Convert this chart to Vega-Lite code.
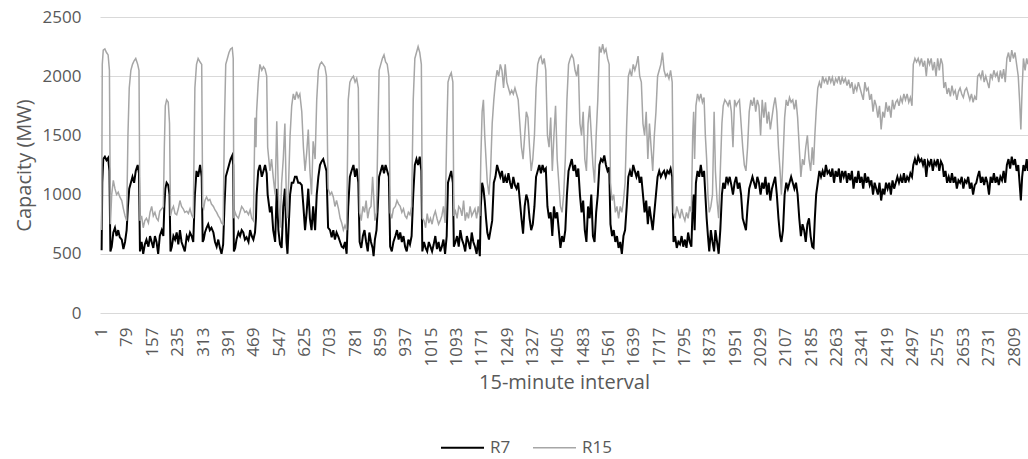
{
"$schema": "https://vega.github.io/schema/vega-lite/v6.json",
"width": 928, "height": 296,
"autosize": {"type": "none"},
"padding": {"left": 100, "top": 17, "right": 0, "bottom": 146},
"config": {"font": "Open Sans", "view": {"stroke": null}},
"data": {"values": [
{"i":1,"R7":530,"R15":700},{"i":3,"R7":1100,"R15":2100},{"i":6,"R7":1300,"R15":2220},{"i":11,"R7":1320,"R15":2230},{"i":16,"R7":1290,"R15":2200},{"i":21,"R7":1310,"R15":2180},{"i":25,"R7":1200,"R15":2050},{"i":28,"R7":520,"R15":750},{"i":32,"R7":560,"R15":1000},{"i":37,"R7":680,"R15":1120},{"i":42,"R7":720,"R15":1050},{"i":47,"R7":650,"R15":1000},{"i":52,"R7":700,"R15":1020},{"i":57,"R7":640,"R15":980},{"i":63,"R7":620,"R15":950},{"i":68,"R7":540,"R15":880},{"i":73,"R7":600,"R15":820},{"i":78,"R7":700,"R15":780},{"i":82,"R7":900,"R15":1500},{"i":86,"R7":1050,"R15":1900},{"i":91,"R7":1100,"R15":2050},{"i":96,"R7":1150,"R15":2100},{"i":101,"R7":1100,"R15":2130},{"i":106,"R7":1200,"R15":2150},{"i":112,"R7":1250,"R15":2100},{"i":116,"R7":1180,"R15":2050},
{"i":119,"R7":520,"R15":780},{"i":124,"R7":600,"R15":820},{"i":129,"R7":500,"R15":720},{"i":134,"R7":580,"R15":780},{"i":139,"R7":620,"R15":800},{"i":145,"R7":560,"R15":760},{"i":150,"R7":650,"R15":850},{"i":155,"R7":600,"R15":900},{"i":160,"R7":550,"R15":820},{"i":165,"R7":650,"R15":850},{"i":170,"R7":600,"R15":800},{"i":175,"R7":500,"R15":780},{"i":180,"R7":650,"R15":860},{"i":186,"R7":700,"R15":880},{"i":191,"R7":650,"R15":900},{"i":194,"R7":900,"R15":1400},{"i":197,"R7":1050,"R15":1750},{"i":201,"R7":1100,"R15":1800},{"i":206,"R7":1080,"R15":1780},{"i":210,"R7":1000,"R15":1600},
{"i":213,"R7":520,"R15":820},{"i":217,"R7":560,"R15":870},{"i":222,"R7":650,"R15":900},{"i":227,"R7":620,"R15":840},{"i":232,"R7":680,"R15":830},{"i":237,"R7":580,"R15":880},{"i":242,"R7":700,"R15":950},{"i":247,"R7":600,"R15":900},{"i":252,"R7":560,"R15":880},{"i":257,"R7":520,"R15":850},{"i":263,"R7":650,"R15":860},{"i":268,"R7":620,"R15":840},{"i":273,"R7":680,"R15":880},{"i":278,"R7":650,"R15":830},{"i":283,"R7":600,"R15":800},{"i":288,"R7":1000,"R15":1900},{"i":293,"R7":1200,"R15":2100},{"i":298,"R7":1150,"R15":2150},{"i":304,"R7":1250,"R15":2120},{"i":309,"R7":1150,"R15":2100},
{"i":312,"R7":600,"R15":900},{"i":315,"R7":620,"R15":880},{"i":319,"R7":680,"R15":950},{"i":324,"R7":720,"R15":980},{"i":329,"R7":750,"R15":950},{"i":334,"R7":700,"R15":960},{"i":339,"R7":720,"R15":920},{"i":345,"R7":680,"R15":900},{"i":350,"R7":600,"R15":870},{"i":355,"R7":560,"R15":850},{"i":360,"R7":620,"R15":820},{"i":365,"R7":550,"R15":800},{"i":370,"R7":500,"R15":760},{"i":375,"R7":580,"R15":750},{"i":379,"R7":900,"R15":1600},{"i":383,"R7":1150,"R15":2100},{"i":388,"R7":1200,"R15":2150},{"i":393,"R7":1250,"R15":2200},{"i":398,"R7":1300,"R15":2230},{"i":403,"R7":1330,"R15":2240},{"i":406,"R7":1250,"R15":2150},
{"i":408,"R7":520,"R15":800},{"i":412,"R7":550,"R15":850},{"i":416,"R7":620,"R15":820},{"i":422,"R7":680,"R15":800},{"i":427,"R7":650,"R15":850},{"i":432,"R7":700,"R15":900},{"i":437,"R7":680,"R15":880},{"i":442,"R7":620,"R15":850},{"i":447,"R7":640,"R15":860},{"i":453,"R7":600,"R15":830},{"i":458,"R7":700,"R15":870},{"i":463,"R7":650,"R15":800},{"i":468,"R7":620,"R15":780},{"i":473,"R7":680,"R15":1650},{"i":476,"R7":800,"R15":1400},{"i":478,"R7":1000,"R15":1700},{"i":483,"R7":1200,"R15":1950},{"i":488,"R7":1250,"R15":2100},{"i":494,"R7":1150,"R15":2050},{"i":499,"R7":1200,"R15":2080},{"i":504,"R7":1250,"R15":2060},{"i":509,"R7":1180,"R15":2000},
{"i":512,"R7":1000,"R15":1400},{"i":519,"R7":850,"R15":1200},{"i":524,"R7":900,"R15":1300},{"i":529,"R7":700,"R15":1150},{"i":535,"R7":600,"R15":1000},{"i":540,"R7":1050,"R15":1620},{"i":545,"R7":700,"R15":1000},{"i":550,"R7":580,"R15":720},{"i":555,"R7":550,"R15":1100},{"i":560,"R7":900,"R15":1300},{"i":565,"R7":1050,"R15":1600},{"i":570,"R7":600,"R15":900},{"i":573,"R7":500,"R15":800},{"i":581,"R7":1000,"R15":1500},{"i":586,"R7":1100,"R15":1750},{"i":591,"R7":1100,"R15":1850},{"i":596,"R7":1150,"R15":1800},{"i":601,"R7":1150,"R15":1870},{"i":606,"R7":1100,"R15":1820},{"i":611,"R7":1100,"R15":1850},{"i":617,"R7":1080,"R15":1700},
{"i":622,"R7":900,"R15":1400},{"i":627,"R7":700,"R15":1200},{"i":632,"R7":850,"R15":1350},{"i":637,"R7":1050,"R15":1550},{"i":642,"R7":800,"R15":1200},{"i":647,"R7":700,"R15":1000},{"i":652,"R7":900,"R15":1450},{"i":658,"R7":700,"R15":1300},{"i":663,"R7":1000,"R15":1800},{"i":668,"R7":1150,"R15":2050},{"i":673,"R7":1250,"R15":2100},{"i":678,"R7":1280,"R15":2120},{"i":683,"R7":1300,"R15":2100},{"i":688,"R7":1250,"R15":2080},{"i":693,"R7":1200,"R15":2000},
{"i":698,"R7":720,"R15":1050},{"i":704,"R7":700,"R15":1000},{"i":709,"R7":640,"R15":1020},{"i":714,"R7":700,"R15":980},{"i":719,"R7":620,"R15":900},{"i":724,"R7":680,"R15":950},{"i":730,"R7":640,"R15":880},{"i":735,"R7":600,"R15":800},{"i":740,"R7":560,"R15":760},{"i":745,"R7":550,"R15":700},{"i":750,"R7":600,"R15":740},{"i":755,"R7":500,"R15":700},
{"i":760,"R7":900,"R15":1800},{"i":765,"R7":1150,"R15":1950},{"i":770,"R7":1200,"R15":1980},{"i":776,"R7":1250,"R15":2000},{"i":781,"R7":1150,"R15":1950},{"i":786,"R7":1220,"R15":1980},{"i":791,"R7":1100,"R15":1900},
{"i":795,"R7":600,"R15":850},{"i":800,"R7":550,"R15":780},{"i":805,"R7":650,"R15":900},{"i":810,"R7":700,"R15":850},{"i":815,"R7":600,"R15":950},{"i":820,"R7":520,"R15":800},{"i":825,"R7":680,"R15":880},{"i":830,"R7":600,"R15":900},{"i":835,"R7":550,"R15":1150},{"i":838,"R7":480,"R15":1000},{"i":842,"R7":620,"R15":780},{"i":847,"R7":700,"R15":850},{"i":851,"R7":900,"R15":1500},{"i":855,"R7":1150,"R15":2050},{"i":860,"R7":1200,"R15":2100},{"i":865,"R7":1250,"R15":2150},{"i":870,"R7":1180,"R15":2180},{"i":875,"R7":1250,"R15":2120},{"i":880,"R7":1200,"R15":2100},{"i":885,"R7":1150,"R15":2000},
{"i":889,"R7":560,"R15":850},{"i":894,"R7":520,"R15":800},{"i":899,"R7":600,"R15":880},{"i":905,"R7":650,"R15":900},{"i":910,"R7":700,"R15":950},{"i":915,"R7":620,"R15":920},{"i":920,"R7":680,"R15":900},{"i":925,"R7":600,"R15":850},{"i":930,"R7":650,"R15":880},{"i":935,"R7":560,"R15":820},{"i":940,"R7":520,"R15":800},{"i":945,"R7":620,"R15":850},{"i":950,"R7":580,"R15":830},{"i":955,"R7":650,"R15":900},{"i":960,"R7":1000,"R15":1800},{"i":965,"R7":1250,"R15":2150},{"i":970,"R7":1300,"R15":2200},{"i":975,"R7":1250,"R15":2250},{"i":980,"R7":1320,"R15":2200},{"i":985,"R7":1200,"R15":2100},
{"i":988,"R7":520,"R15":800},{"i":993,"R7":600,"R15":780},{"i":998,"R7":550,"R15":720},{"i":1003,"R7":520,"R15":840},{"i":1008,"R7":600,"R15":760},{"i":1013,"R7":560,"R15":800},{"i":1018,"R7":520,"R15":750},{"i":1023,"R7":580,"R15":820},{"i":1028,"R7":650,"R15":860},{"i":1033,"R7":540,"R15":800},{"i":1038,"R7":600,"R15":750},{"i":1043,"R7":520,"R15":780},{"i":1048,"R7":560,"R15":820},{"i":1053,"R7":620,"R15":900},{"i":1058,"R7":500,"R15":760},{"i":1063,"R7":650,"R15":1500},{"i":1067,"R7":1100,"R15":1950},{"i":1072,"R7":1150,"R15":2000},{"i":1077,"R7":1200,"R15":2030},{"i":1082,"R7":1100,"R15":1950},
{"i":1085,"R7":560,"R15":820},{"i":1090,"R7":600,"R15":860},{"i":1095,"R7":650,"R15":800},{"i":1100,"R7":560,"R15":900},{"i":1105,"R7":700,"R15":880},{"i":1110,"R7":620,"R15":820},{"i":1115,"R7":580,"R15":950},{"i":1120,"R7":520,"R15":780},{"i":1125,"R7":650,"R15":850},{"i":1130,"R7":600,"R15":800},{"i":1135,"R7":540,"R15":900},{"i":1140,"R7":680,"R15":820},{"i":1145,"R7":600,"R15":850},{"i":1150,"R7":560,"R15":880},{"i":1155,"R7":500,"R15":800},{"i":1160,"R7":620,"R15":900},{"i":1165,"R7":480,"R15":820},
{"i":1168,"R7":900,"R15":1300},{"i":1172,"R7":1100,"R15":1700},{"i":1176,"R7":1050,"R15":1800},{"i":1180,"R7":950,"R15":1500},{"i":1184,"R7":800,"R15":1300},{"i":1188,"R7":680,"R15":1100},{"i":1193,"R7":620,"R15":1000},{"i":1198,"R7":700,"R15":1200},{"i":1203,"R7":780,"R15":1600},{"i":1208,"R7":1100,"R15":1800},{"i":1213,"R7":1150,"R15":1950},{"i":1218,"R7":1250,"R15":2050},{"i":1223,"R7":1200,"R15":2000},{"i":1228,"R7":1150,"R15":2100},{"i":1233,"R7":1200,"R15":2050},{"i":1238,"R7":1100,"R15":1900},{"i":1243,"R7":1150,"R15":2100},{"i":1248,"R7":1100,"R15":1950},{"i":1253,"R7":1180,"R15":1900},{"i":1258,"R7":1100,"R15":1850},{"i":1263,"R7":1050,"R15":1880},{"i":1268,"R7":1150,"R15":1850},{"i":1273,"R7":1080,"R15":1900},{"i":1278,"R7":1050,"R15":1850},{"i":1283,"R7":1100,"R15":1800},
{"i":1288,"R7":950,"R15":1600},{"i":1293,"R7":800,"R15":1400},{"i":1298,"R7":670,"R15":1300},{"i":1303,"R7":900,"R15":1500},{"i":1308,"R7":1000,"R15":1700},{"i":1313,"R7":950,"R15":1650},{"i":1318,"R7":800,"R15":1400},{"i":1323,"R7":700,"R15":1200},{"i":1328,"R7":750,"R15":1300},{"i":1333,"R7":900,"R15":1500},{"i":1338,"R7":1150,"R15":1900},{"i":1343,"R7":1200,"R15":2100},{"i":1348,"R7":1250,"R15":2150},{"i":1353,"R7":1180,"R15":2170},{"i":1358,"R7":1250,"R15":2100},{"i":1363,"R7":1200,"R15":2150},{"i":1368,"R7":1220,"R15":2050},
{"i":1373,"R7":900,"R15":1500},{"i":1378,"R7":800,"R15":1400},{"i":1383,"R7":850,"R15":1650},{"i":1388,"R7":650,"R15":1200},{"i":1393,"R7":900,"R15":1500},{"i":1398,"R7":800,"R15":1750},{"i":1403,"R7":850,"R15":1300},{"i":1408,"R7":700,"R15":1100},{"i":1413,"R7":550,"R15":900},{"i":1418,"R7":650,"R15":850},{"i":1423,"R7":600,"R15":1000},{"i":1428,"R7":700,"R15":1300},{"i":1433,"R7":1000,"R15":1800},{"i":1438,"R7":1200,"R15":2100},{"i":1443,"R7":1250,"R15":2150},{"i":1448,"R7":1300,"R15":2180},{"i":1453,"R7":1200,"R15":2150},{"i":1458,"R7":1250,"R15":2050},{"i":1463,"R7":1150,"R15":2000},{"i":1468,"R7":1220,"R15":2100},
{"i":1473,"R7":1000,"R15":1600},{"i":1478,"R7":850,"R15":1500},{"i":1483,"R7":950,"R15":1700},{"i":1488,"R7":700,"R15":1300},{"i":1493,"R7":600,"R15":1200},{"i":1498,"R7":900,"R15":1600},{"i":1503,"R7":800,"R15":1750},{"i":1508,"R7":1000,"R15":1500},{"i":1513,"R7":650,"R15":1250},{"i":1518,"R7":600,"R15":1100},{"i":1523,"R7":850,"R15":1500},{"i":1528,"R7":1000,"R15":1800},{"i":1533,"R7":1250,"R15":2250},{"i":1538,"R7":1300,"R15":2200},{"i":1543,"R7":1280,"R15":2270},{"i":1548,"R7":1330,"R15":2200},{"i":1553,"R7":1250,"R15":2230},{"i":1558,"R7":1200,"R15":2150},{"i":1563,"R7":1230,"R15":2100},
{"i":1567,"R7":750,"R15":1100},{"i":1572,"R7":650,"R15":950},{"i":1577,"R7":700,"R15":1000},{"i":1582,"R7":600,"R15":850},{"i":1587,"R7":650,"R15":900},{"i":1592,"R7":550,"R15":800},{"i":1597,"R7":600,"R15":900},{"i":1602,"R7":500,"R15":850},{"i":1607,"R7":650,"R15":950},{"i":1612,"R7":700,"R15":1100},{"i":1617,"R7":900,"R15":1600},{"i":1622,"R7":1150,"R15":2000},{"i":1627,"R7":1200,"R15":2050},{"i":1632,"R7":1150,"R15":2000},{"i":1637,"R7":1250,"R15":2100},{"i":1642,"R7":1200,"R15":2050},{"i":1647,"R7":1150,"R15":2100},{"i":1652,"R7":1200,"R15":2170},{"i":1657,"R7":1100,"R15":2000},{"i":1662,"R7":1150,"R15":1950},
{"i":1667,"R7":1000,"R15":1600},{"i":1672,"R7":850,"R15":1500},{"i":1677,"R7":950,"R15":1700},{"i":1682,"R7":750,"R15":1300},{"i":1687,"R7":900,"R15":1600},{"i":1692,"R7":800,"R15":1400},{"i":1697,"R7":700,"R15":1200},{"i":1702,"R7":850,"R15":1500},{"i":1707,"R7":1000,"R15":1700},{"i":1712,"R7":1150,"R15":2000},{"i":1717,"R7":1200,"R15":2050},{"i":1722,"R7":1150,"R15":2100},{"i":1727,"R7":1180,"R15":2200},{"i":1732,"R7":1200,"R15":2050},{"i":1737,"R7":1150,"R15":2000},{"i":1742,"R7":1200,"R15":2020},{"i":1747,"R7":1180,"R15":1980},{"i":1752,"R7":1220,"R15":2050},{"i":1757,"R7":1150,"R15":1950},
{"i":1761,"R7":600,"R15":850},{"i":1766,"R7":650,"R15":800},{"i":1771,"R7":550,"R15":900},{"i":1776,"R7":600,"R15":850},{"i":1781,"R7":580,"R15":800},{"i":1786,"R7":650,"R15":880},{"i":1791,"R7":560,"R15":820},{"i":1796,"R7":620,"R15":780},{"i":1801,"R7":550,"R15":850},{"i":1806,"R7":680,"R15":800},{"i":1811,"R7":600,"R15":900},{"i":1816,"R7":560,"R15":850},{"i":1820,"R7":900,"R15":1500},{"i":1823,"R7":1000,"R15":1700},{"i":1826,"R7":700,"R15":1300},{"i":1830,"R7":1100,"R15":1750},{"i":1835,"R7":1200,"R15":1850},{"i":1840,"R7":1150,"R15":1800},{"i":1845,"R7":1250,"R15":1850},{"i":1850,"R7":1150,"R15":1780},{"i":1855,"R7":1200,"R15":1820},
{"i":1859,"R7":1000,"R15":1500},{"i":1863,"R7":800,"R15":1300},{"i":1867,"R7":650,"R15":1000},{"i":1871,"R7":520,"R15":850},{"i":1876,"R7":700,"R15":900},{"i":1881,"R7":600,"R15":1000},{"i":1886,"R7":520,"R15":1700},{"i":1890,"R7":700,"R15":1200},{"i":1895,"R7":600,"R15":950},{"i":1900,"R7":500,"R15":800},{"i":1905,"R7":700,"R15":1200},{"i":1910,"R7":1000,"R15":1600},{"i":1914,"R7":1100,"R15":1750},{"i":1919,"R7":1050,"R15":1800},{"i":1924,"R7":1150,"R15":1780},{"i":1929,"R7":1100,"R15":1750},{"i":1934,"R7":1150,"R15":1800},{"i":1939,"R7":1080,"R15":1700},{"i":1944,"R7":1000,"R15":1400},{"i":1949,"R7":1100,"R15":1800},{"i":1954,"R7":1150,"R15":1750},{"i":1959,"R7":1050,"R15":1780},{"i":1964,"R7":1100,"R15":1800},{"i":1969,"R7":1000,"R15":1600},
{"i":1974,"R7":800,"R15":1400},{"i":1979,"R7":750,"R15":1250},{"i":1984,"R7":700,"R15":1200},{"i":1989,"R7":900,"R15":1400},{"i":1994,"R7":1050,"R15":1700},{"i":1999,"R7":1100,"R15":1800},{"i":2004,"R7":1150,"R15":1750},{"i":2009,"R7":1100,"R15":1820},{"i":2014,"R7":1050,"R15":1700},{"i":2019,"R7":1150,"R15":1800},{"i":2024,"R7":1100,"R15":1750},{"i":2029,"R7":1000,"R15":1500},{"i":2034,"R7":1100,"R15":1800},{"i":2039,"R7":1050,"R15":1650},{"i":2044,"R7":1150,"R15":1780},{"i":2049,"R7":1000,"R15":1600},{"i":2054,"R7":1100,"R15":1700},{"i":2059,"R7":950,"R15":1550},{"i":2064,"R7":1050,"R15":1650},{"i":2069,"R7":1100,"R15":1750},{"i":2074,"R7":1150,"R15":1820},{"i":2079,"R7":1000,"R15":1700},
{"i":2084,"R7":800,"R15":1400},{"i":2089,"R7":650,"R15":1200},{"i":2093,"R7":600,"R15":1000},{"i":2098,"R7":700,"R15":1300},{"i":2103,"R7":1000,"R15":1650},{"i":2108,"R7":1100,"R15":1800},{"i":2113,"R7":1050,"R15":1750},{"i":2118,"R7":1100,"R15":1820},{"i":2123,"R7":1150,"R15":1780},{"i":2128,"R7":1100,"R15":1800},{"i":2133,"R7":1050,"R15":1720},{"i":2138,"R7":1100,"R15":1800},{"i":2143,"R7":1000,"R15":1650},
{"i":2148,"R7":800,"R15":1400},{"i":2153,"R7":650,"R15":1150},{"i":2158,"R7":750,"R15":1300},{"i":2163,"R7":700,"R15":1250},{"i":2168,"R7":600,"R15":1400},{"i":2173,"R7":750,"R15":1500},{"i":2178,"R7":800,"R15":1300},{"i":2183,"R7":650,"R15":1200},{"i":2188,"R7":560,"R15":1400},{"i":2192,"R7":550,"R15":1250},{"i":2196,"R7":800,"R15":1500},{"i":2200,"R7":1000,"R15":1700},
{"i":2205,"R7":1100,"R15":1900},{"i":2210,"R7":1200,"R15":1950},{"i":2215,"R7":1150,"R15":1900},{"i":2220,"R7":1200,"R15":2000},{"i":2225,"R7":1150,"R15":1950},{"i":2230,"R7":1250,"R15":1980},{"i":2235,"R7":1180,"R15":1930},{"i":2240,"R7":1200,"R15":2000},{"i":2245,"R7":1150,"R15":1950},{"i":2250,"R7":1220,"R15":1990},{"i":2255,"R7":1100,"R15":1920},{"i":2260,"R7":1200,"R15":1980},{"i":2265,"R7":1150,"R15":1950},{"i":2270,"R7":1220,"R15":2000},{"i":2275,"R7":1100,"R15":1930},{"i":2280,"R7":1200,"R15":1990},{"i":2285,"R7":1150,"R15":1950},{"i":2290,"R7":1200,"R15":1980},{"i":2295,"R7":1100,"R15":1920},{"i":2300,"R7":1180,"R15":1970},{"i":2305,"R7":1120,"R15":1900},{"i":2310,"R7":1200,"R15":1950},
{"i":2315,"R7":1050,"R15":1850},{"i":2320,"R7":1150,"R15":1920},{"i":2325,"R7":1100,"R15":1880},{"i":2330,"R7":1200,"R15":1950},{"i":2335,"R7":1100,"R15":1900},{"i":2340,"R7":1150,"R15":1850},{"i":2345,"R7":1050,"R15":1800},{"i":2350,"R7":1180,"R15":1950},{"i":2355,"R7":1100,"R15":1880},{"i":2360,"R7":1150,"R15":1900},{"i":2365,"R7":1080,"R15":1800},{"i":2370,"R7":1120,"R15":1850},{"i":2375,"R7":1000,"R15":1700},{"i":2380,"R7":1100,"R15":1800},{"i":2385,"R7":1050,"R15":1750},{"i":2390,"R7":1000,"R15":1650},{"i":2395,"R7":1100,"R15":1750},{"i":2400,"R7":950,"R15":1550},{"i":2405,"R7":1050,"R15":1700},{"i":2410,"R7":1000,"R15":1650},{"i":2415,"R7":1100,"R15":1780},{"i":2420,"R7":1050,"R15":1700},{"i":2425,"R7":1100,"R15":1750},{"i":2430,"R7":1000,"R15":1650},{"i":2435,"R7":1120,"R15":1800},{"i":2440,"R7":1050,"R15":1720},{"i":2445,"R7":1100,"R15":1780},
{"i":2450,"R7":1150,"R15":1800},{"i":2455,"R7":1100,"R15":1750},{"i":2460,"R7":1150,"R15":1820},{"i":2465,"R7":1100,"R15":1780},{"i":2470,"R7":1180,"R15":1850},{"i":2475,"R7":1100,"R15":1800},{"i":2480,"R7":1150,"R15":1850},{"i":2485,"R7":1120,"R15":1780},{"i":2490,"R7":1180,"R15":1820},{"i":2495,"R7":1150,"R15":1750},
{"i":2499,"R7":1250,"R15":2100},{"i":2504,"R7":1300,"R15":2150},{"i":2509,"R7":1250,"R15":2120},{"i":2514,"R7":1320,"R15":2150},{"i":2519,"R7":1280,"R15":2100},{"i":2524,"R7":1300,"R15":2150},{"i":2529,"R7":1250,"R15":2080},{"i":2534,"R7":1300,"R15":2130},{"i":2539,"R7":1150,"R15":2000},{"i":2544,"R7":1280,"R15":2150},{"i":2549,"R7":1250,"R15":2100},{"i":2554,"R7":1300,"R15":2150},{"i":2559,"R7":1200,"R15":2050},{"i":2564,"R7":1280,"R15":2120},{"i":2569,"R7":1250,"R15":2000},{"i":2574,"R7":1300,"R15":2150},{"i":2579,"R7":1200,"R15":2050},{"i":2584,"R7":1280,"R15":2150},{"i":2589,"R7":1250,"R15":2100},
{"i":2593,"R7":1150,"R15":1900},{"i":2598,"R7":1200,"R15":1950},{"i":2603,"R7":1100,"R15":1850},{"i":2608,"R7":1150,"R15":1900},{"i":2613,"R7":1100,"R15":1830},{"i":2618,"R7":1180,"R15":1920},{"i":2623,"R7":1100,"R15":1850},{"i":2628,"R7":1150,"R15":1880},{"i":2633,"R7":1050,"R15":1800},{"i":2638,"R7":1120,"R15":1870},{"i":2643,"R7":1100,"R15":1900},{"i":2648,"R7":1150,"R15":1850},{"i":2653,"R7":1050,"R15":1820},{"i":2658,"R7":1120,"R15":1880},{"i":2663,"R7":1100,"R15":1900},{"i":2668,"R7":1150,"R15":1850},{"i":2673,"R7":1050,"R15":1800},{"i":2678,"R7":1100,"R15":1850},{"i":2683,"R7":1000,"R15":1780},{"i":2688,"R7":1080,"R15":1830},{"i":2693,"R7":1100,"R15":1800},
{"i":2697,"R7":1150,"R15":2000},{"i":2702,"R7":1200,"R15":2020},{"i":2707,"R7":1100,"R15":1980},{"i":2712,"R7":1150,"R15":2050},{"i":2717,"R7":1080,"R15":1950},{"i":2722,"R7":1150,"R15":2000},{"i":2727,"R7":1100,"R15":1950},{"i":2732,"R7":1000,"R15":1900},{"i":2737,"R7":1150,"R15":2020},{"i":2742,"R7":1100,"R15":1980},{"i":2747,"R7":1180,"R15":2050},{"i":2752,"R7":1100,"R15":2000},{"i":2757,"R7":1150,"R15":2030},{"i":2762,"R7":1080,"R15":1950},{"i":2767,"R7":1150,"R15":2050},{"i":2772,"R7":1120,"R15":1980},{"i":2777,"R7":1200,"R15":2060},{"i":2782,"R7":1100,"R15":1950},
{"i":2787,"R7":1250,"R15":2150},{"i":2792,"R7":1300,"R15":2200},{"i":2797,"R7":1220,"R15":2120},{"i":2802,"R7":1320,"R15":2220},{"i":2807,"R7":1250,"R15":2150},{"i":2812,"R7":1300,"R15":2200},{"i":2817,"R7":1200,"R15":2100},{"i":2822,"R7":1250,"R15":2000},{"i":2826,"R7":1100,"R15":1800},{"i":2830,"R7":950,"R15":1550},{"i":2834,"R7":1150,"R15":1900},{"i":2838,"R7":1250,"R15":2150},{"i":2843,"R7":1200,"R15":2050},{"i":2848,"R7":1300,"R15":2150},{"i":2852,"R7":1200,"R15":2100}
]},
"transform": [{"fold": ["R7", "R15"], "as": ["series", "value"]}],
"mark": {"type": "line", "clip": true},
"encoding": {
  "x": {"field": "i", "type": "quantitative",
    "scale": {"domain": [-4, 2852], "nice": false, "zero": false},
    "axis": {"values": [1,79,157,235,313,391,469,547,625,703,781,859,937,1015,1093,1171,1249,1327,1405,1483,1561,1639,1717,1795,1873,1951,2029,2107,2185,2263,2341,2419,2497,2575,2653,2731,2809],
      "format": "d", "labelAngle": 270, "grid": false, "ticks": false, "tickSize": 0, "domain": false,
      "labelPadding": 14, "labelFontSize": 17, "labelColor": "#595959", "labelOverlap": false, "labelFlush": false,
      "title": "15-minute interval", "titleFontSize": 20, "titleFontWeight": "normal", "titleColor": "#595959", "titlePadding": 7}},
  "y": {"field": "value", "type": "quantitative",
    "scale": {"domain": [0, 2500], "nice": false},
    "axis": {"values": [0,500,1000,1500,2000,2500], "format": "d", "grid": true, "gridColor": "#d9d9d9", "gridWidth": 1,
      "ticks": false, "tickSize": 0, "domain": false, "labelPadding": 19, "labelFontSize": 17, "labelColor": "#595959",
      "title": "Capacity (MW)", "titleFontSize": 20, "titleFontWeight": "normal", "titleColor": "#595959", "titlePadding": 8}},
  "color": {"field": "series", "type": "nominal",
    "scale": {"domain": ["R7", "R15"], "range": ["#000000", "#a6a6a6"]},
    "legend": {"title": null, "orient": "none", "legendX": 340, "legendY": 408, "direction": "horizontal",
      "symbolType": "stroke", "symbolSize": 1849, "symbolStrokeWidth": 1.5, "labelFontSize": 17, "labelColor": "#595959",
      "columnPadding": 19, "labelOffset": 5, "padding": 0}},
  "strokeWidth": {"field": "series", "type": "nominal", "scale": {"domain": ["R7", "R15"], "range": [2, 1.5]}, "legend": null}
}
}
